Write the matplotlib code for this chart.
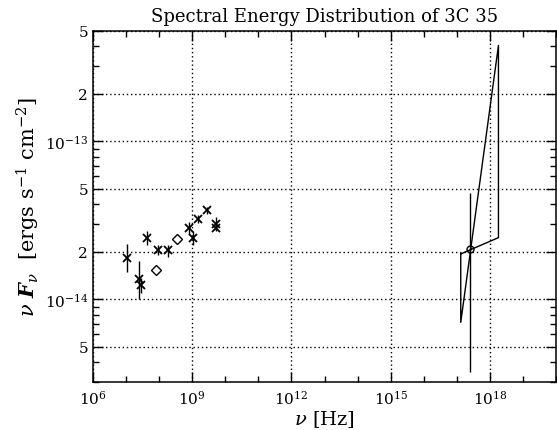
import numpy as np
import matplotlib
matplotlib.use("Agg")
import matplotlib.pyplot as plt
from matplotlib.ticker import FixedLocator, FixedFormatter, LogLocator, NullFormatter

plt.rcParams['font.family'] = ['DejaVu Serif']
plt.rcParams['mathtext.fontset'] = 'dejavuserif'

# Radio crosses (log10 nu, flux, lower err, upper err)
cross_lognu = [7.04, 7.40, 7.45, 7.62, 7.97, 8.28, 8.91, 9.03, 9.18, 9.46, 9.72, 9.72]
cross_flux = [1.82e-14, 1.34e-14, 1.23e-14, 2.46e-14, 2.06e-14, 2.04e-14, 2.84e-14, 2.46e-14, 3.22e-14, 3.66e-14, 3.0e-14, 2.85e-14]
cross_lo = [1.49e-14, 1.0e-14, 1.1e-14, 2.22e-14, 1.9e-14, 1.86e-14, 2.6e-14, 2.22e-14, 3.05e-14, 3.48e-14, 2.75e-14, 2.7e-14]
cross_hi = [2.25e-14, 1.76e-14, 1.36e-14, 2.72e-14, 2.22e-14, 2.22e-14, 3.1e-14, 2.72e-14, 3.4e-14, 3.85e-14, 3.3e-14, 3.0e-14]

# Diamonds
diam_lognu = [7.90, 8.55]
diam_flux = [1.53e-14, 2.42e-14]

# X-ray point
xray_lognu = [17.40]
xray_flux = [2.09e-14]
xray_lo = [3.47e-15]
xray_hi = [4.71e-14]

# Bow-tie (power-law envelope)
bow_lognu = [17.12, 17.12, 18.26, 18.26, 17.12]
bow_flux = [1.94e-14, 7.16e-15, 4.05e-13, 2.46e-14, 1.94e-14]

fig = plt.figure(figsize=(5.57, 4.31), dpi=100)
ax = fig.add_axes([93/557, 1-383/431, (556-93)/557, (383-32)/431])

cx = 10**np.array(cross_lognu)
cf = np.array(cross_flux)
ax.errorbar(cx, cf, yerr=[cf-np.array(cross_lo), np.array(cross_hi)-cf], fmt='none', ecolor='black', elinewidth=1.0, capsize=0)
ax.plot(cx, cf, 'x', color='black', ms=6, mew=1.3)

ax.plot(10**np.array(diam_lognu), diam_flux, 'D', mfc='white', mec='black', ms=5.5, mew=1.0)

xx = 10**np.array(xray_lognu)
xf = np.array(xray_flux)
ax.errorbar(xx, xf, yerr=[xf-np.array(xray_lo), np.array(xray_hi)-xf], fmt='none', ecolor='black', elinewidth=1.0, capsize=0)
ax.plot(10**np.array(bow_lognu), bow_flux, '-', color='black', lw=1.0)
ax.plot(xx, xf, 'o', mfc='none', mec='black', ms=5, mew=1.0)

ax.set_xscale('log')
ax.set_yscale('log')
ax.set_xlim(1e6, 1e20)
ax.set_ylim(3e-15, 5e-13)

xmaj = [1e6, 1e9, 1e12, 1e15, 1e18]
xlab = [r'$10^{6}$', r'$10^{9}$', r'$10^{12}$', r'$10^{15}$', r'$10^{18}$']
ax.xaxis.set_major_locator(FixedLocator(xmaj))
ax.xaxis.set_major_formatter(FixedFormatter(xlab))
ax.xaxis.set_minor_locator(FixedLocator([10.0**k for k in range(6, 21)]))
ax.xaxis.set_minor_formatter(NullFormatter())

ymaj = [5e-15, 1e-14, 2e-14, 5e-14, 1e-13, 2e-13, 5e-13]
ylab = ['5', r'$10^{-14}$', '2', '5', r'$10^{-13}$', '2', '5']
ax.yaxis.set_major_locator(FixedLocator(ymaj))
ax.yaxis.set_major_formatter(FixedFormatter(ylab))
ax.yaxis.set_minor_locator(LogLocator(base=10, subs=(3, 4, 6, 7, 8, 9)))
ax.yaxis.set_minor_formatter(NullFormatter())

ax.tick_params(which='both', direction='in', top=True, right=True, labelsize=11)
ax.tick_params(which='major', length=7, width=1)
ax.tick_params(which='minor', length=4, width=1)
ax.tick_params(axis='x', pad=5)
ax.grid(True, which='major', linestyle=(0, (1, 2)), color='black', lw=1.0)

ax.set_title('Spectral Energy Distribution of 3C 35', fontsize=13, pad=7)
ax.set_xlabel(r'$\nu$ [Hz]', fontsize=14, labelpad=1)
ax.set_ylabel(r'$\nu\ \boldsymbol{F}_\nu$  [ergs s$^{-1}$ cm$^{-2}$]', fontsize=15, labelpad=2)

for s in ax.spines.values():
    s.set_linewidth(1.1)

fig.savefig('out.png', dpi=100)
